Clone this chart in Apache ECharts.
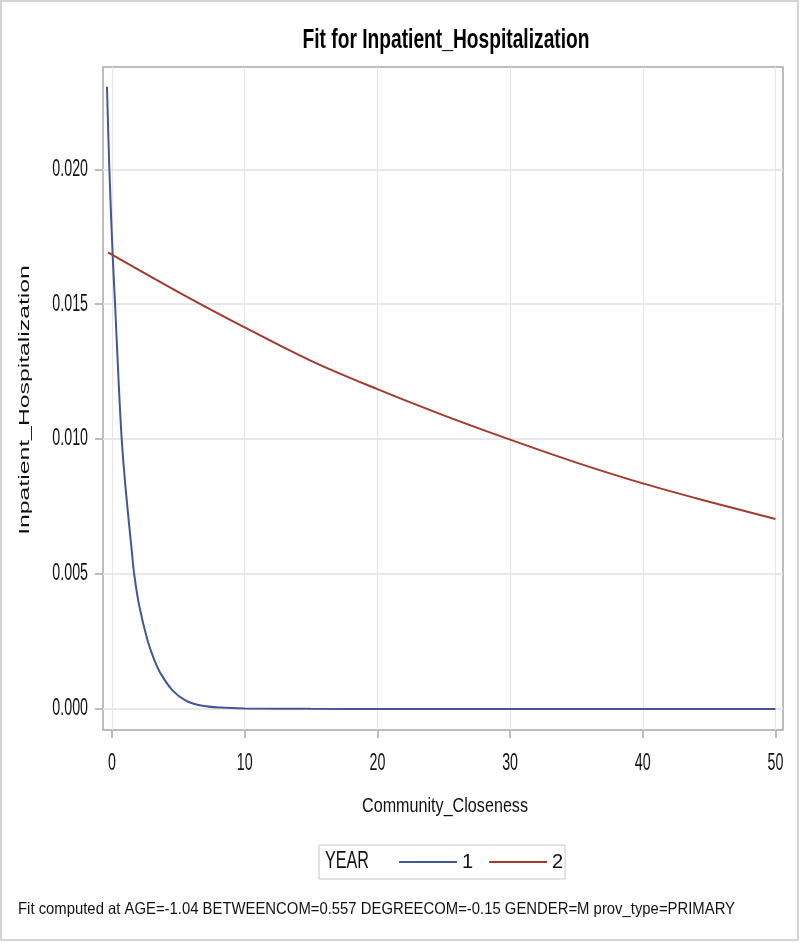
<!DOCTYPE html>
<html>
<head>
<meta charset="utf-8">
<script src="https://cdn.jsdelivr.net/npm/echarts@6/dist/echarts.min.js"></script>
<style>html,body{margin:0;padding:0;background:#fff}#c{width:800px;height:943px}</style>
</head>
<body>
<div id="c"></div>
<script>
// ---- data ----
var titleText = 'Fit for Inpatient_Hospitalization';
var xName = 'Community_Closeness';
var yName = 'Inpatient_Hospitalization';
var footText = 'Fit computed at AGE=-1.04 BETWEENCOM=0.557 DEGREECOM=-0.15 GENDER=M prov_type=PRIMARY';
var legendTitle = 'YEAR';
var seriesNames = ['1', '2'];
var xTicks = [0, 10, 20, 30, 40, 50];
var yTicks = [0, 0.005, 0.010, 0.015, 0.020];

var year1X = [-0.38, -0.2, 0.05, 0.23, 0.5, 0.73, 1.0, 1.48, 1.67, 2.06, 2.68, 3.2, 3.68, 4.56, 5.56, 6.7, 8.2, 10, 15, 20, 30, 40, 50];
var year1Y = [0.02306, 0.0200, 0.0168, 0.0150, 0.0121, 0.0100, 0.0083, 0.0059, 0.0050, 0.0038, 0.00254, 0.0018, 0.0013, 0.00069, 0.00031, 0.00013, 0.00005, 0.00002, 0.000003, 0, 0, 0, 0];

var year2X = [-0.3, 5, 10, 15, 20, 25, 30, 35, 40, 45, 50];
var year2Y = [0.01692, 0.01545, 0.01414, 0.0129, 0.01185, 0.01088, 0.00998, 0.00913, 0.00836, 0.00768, 0.00704];

function pairs(xs, ys) { return xs.map(function (x, i) { return [x, ys[i]]; }); }

var FAM = '"Liberation Sans", Arial, sans-serif';
var TXT = '#111';
var SQ = 0.62; // horizontal squeeze of the reference's stretched text

var mctx = document.createElement('canvas').getContext('2d');
function fitScale(text, font, target) { mctx.font = font; return target / mctx.measureText(text).width; }

var chart = echarts.init(document.getElementById('c'), null, { renderer: 'canvas' });
chart.setOption({
  backgroundColor: '#fff',
  animation: false,
  grid: { left: 103, right: 17, top: 67, bottom: 213, show: true, borderColor: '#a8a8a8', borderWidth: 1.5, containLabel: false },
  xAxis: {
    type: 'value', min: -0.68, max: 50.57,
    axisLine: { show: false, onZero: false },
    axisTick: { show: true, length: 8, lineStyle: { color: '#a8a8a8', width: 1.5 }, customValues: xTicks },
    axisLabel: { show: false, customValues: xTicks },
    splitLine: { show: true, lineStyle: { color: '#e6e6e6', width: 1.2 } }
  },
  yAxis: {
    type: 'value', min: -0.00078, max: 0.02379,
    axisLine: { show: false, onZero: false },
    axisTick: { show: true, length: 8, lineStyle: { color: '#a8a8a8', width: 1.5 }, customValues: yTicks },
    axisLabel: { show: false, customValues: yTicks },
    splitLine: { show: true, lineStyle: { color: '#e8e8e8', width: 2 } }
  },
  legend: {
    left: 394, top: 847,
    itemWidth: 58, itemHeight: 2, itemGap: 16, icon: 'rect',
    textStyle: { fontFamily: FAM, fontSize: 20, color: TXT },
    data: seriesNames
  },
  series: [{
    name: seriesNames[0], type: 'line', data: pairs(year1X, year1Y),
    showSymbol: false, symbol: 'none', smooth: 0.35,
    lineStyle: { color: '#445694', width: 2 }, itemStyle: { color: '#445694' }
  }, {
    name: seriesNames[1], type: 'line', data: pairs(year2X, year2Y),
    showSymbol: false, symbol: 'none', smooth: 0.35,
    lineStyle: { color: '#A23A2E', width: 2 }, itemStyle: { color: '#A23A2E' }
  }]
});

// ---- text drawn as graphic elements (tall, condensed like the reference) ----
var g = [];
g.push({ type: 'rect', shape: { x: 1, y: 1, width: 797, height: 939 }, style: { fill: 'none', stroke: '#d4d4d4', lineWidth: 2 }, silent: true, z: 0 });
g.push({ type: 'rect', shape: { x: 319, y: 845, width: 246, height: 34 }, style: { fill: 'rgba(0,0,0,0)', stroke: '#c8c8c8', lineWidth: 1 }, silent: true, z: 0 });

var titleFont = 'bold 27px ' + FAM;
g.push({ type: 'text', x: 446, y: 41, scaleX: fitScale(titleText, titleFont, 287),
  style: { text: titleText, font: titleFont, fill: '#000', align: 'center', verticalAlign: 'middle' }, silent: true });

var footFont = '16.5px ' + FAM;
g.push({ type: 'text', x: 18, y: 909, scaleX: fitScale(footText, footFont, 717),
  style: { text: footText, font: footFont, fill: TXT, align: 'left', verticalAlign: 'middle' }, silent: true });

var xNameFont = '21px ' + FAM;
g.push({ type: 'text', x: 445, y: 806, scaleX: fitScale(xName, xNameFont, 166),
  style: { text: xName, font: xNameFont, fill: TXT, align: 'center', verticalAlign: 'middle' }, silent: true });

var yearFont = '23px ' + FAM;
g.push({ type: 'text', x: 325, y: 862, scaleX: fitScale(legendTitle, yearFont, 44),
  style: { text: legendTitle, font: yearFont, fill: TXT, align: 'left', verticalAlign: 'middle' }, silent: true });

g.push({ type: 'text', x: 25, y: 400, rotation: Math.PI / 2, scaleX: 1.65,
  style: { text: yName, font: '15px ' + FAM, fill: TXT, align: 'center', verticalAlign: 'middle' }, silent: true });

var tickFont = '23px ' + FAM;
xTicks.forEach(function (v) {
  var p = chart.convertToPixel({ gridIndex: 0 }, [v, 0]);
  g.push({ type: 'text', x: p[0], y: 764, scaleX: SQ,
    style: { text: String(v), font: tickFont, fill: TXT, align: 'center', verticalAlign: 'middle' }, silent: true });
});
yTicks.forEach(function (v) {
  var p = chart.convertToPixel({ gridIndex: 0 }, [0, v]);
  g.push({ type: 'text', x: 88, y: p[1], scaleX: SQ,
    style: { text: v.toFixed(3), font: tickFont, fill: TXT, align: 'right', verticalAlign: 'middle' }, silent: true });
});

chart.setOption({ graphic: g });
</script>
</body>
</html>
